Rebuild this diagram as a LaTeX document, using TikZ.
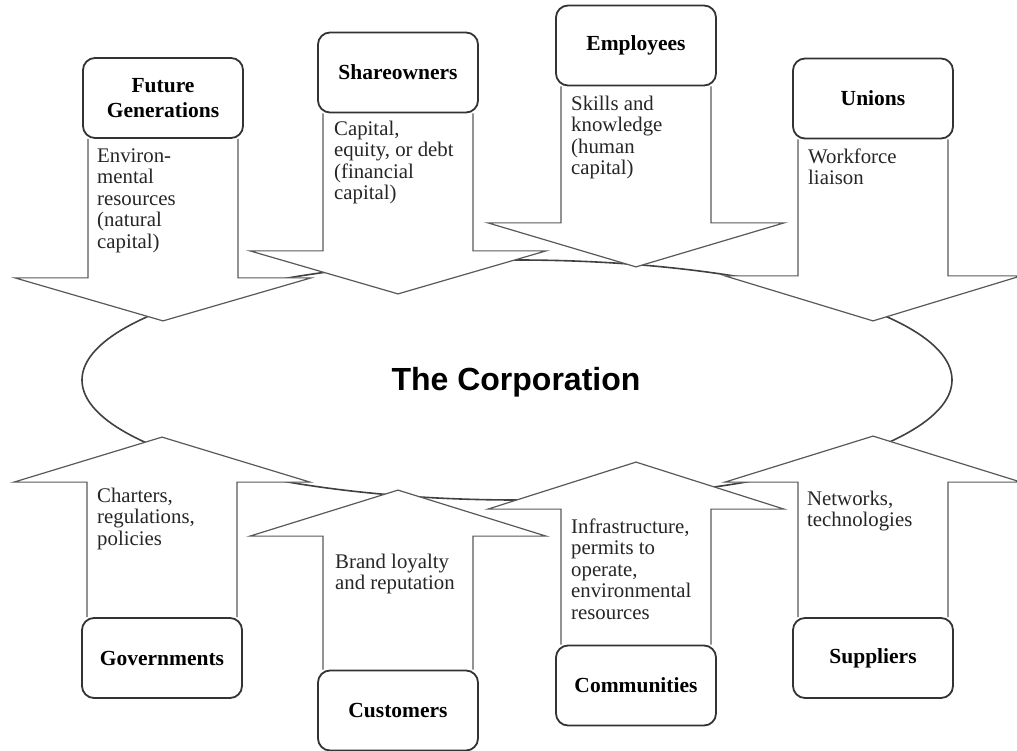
\documentclass[tikz,border=0pt]{standalone}
\usepackage{fontspec}
\setmainfont{Liberation Serif}
\newfontfamily\corpfont{Liberation Sans}
\usetikzlibrary{shapes.geometric,calc}
\pgfdeclarelayer{ell}
\pgfdeclarelayer{arrs}
\pgfsetlayers{ell,arrs,main}
\tikzset{
  lbox/.style={draw=black!80, line width=1.8pt, rounded corners=12pt, fill=white,
    minimum width=160pt, minimum height=80pt, inner sep=0pt, align=center,
    font=\fontsize{21.5}{25}\selectfont\bfseries},
  arrbody/.style={draw=black!65, line width=1.2pt, fill=white, line join=miter},
  btext/.style={anchor=north west, inner sep=0pt, align=left,
    font=\fontsize{20.8}{21.5}\selectfont, text=black!85},
  corpell/.style={ellipse, draw=black!75, line width=1.6pt, fill=white,
    minimum width=870pt, minimum height=240pt, inner sep=0pt},
  corplabel/.style={anchor=base, inner sep=0pt,
    font=\corpfont\bfseries\fontsize{32}{36}\selectfont},
}
% #1 box node, #2 body length, #3 head height
\newcommand\DownArr[3]{%
  \path[arrbody] ($(#1.south)+(-75,0)$) -- ++(0,#2) -- ++(-73,0)
    -- ($(#1.south)+(0,{#2+#3})$) -- ($(#1.south)+(148,#2)$) -- ++(-73,0) -- ++(0,-#2);
}
\newcommand\UpArr[3]{%
  \path[arrbody] ($(#1.north)+(-75,0)$) -- ++(0,-#2) -- ++(-73,0)
    -- ($(#1.north)+(0,{-#2-#3})$) -- ($(#1.north)+(148,-#2)$) -- ++(-73,0) -- ++(0,#2);
}
\begin{document}
\begin{tikzpicture}[x=1pt,y=-1pt]
\useasboundingbox (0,0) rectangle (1017,751);

% stakeholder boxes
\node[lbox] (fg) at (163,98) {Future\\Generations};
\node[lbox] (sh) at (398,72.5) {Shareowners};
\node[lbox] (em) at (636,45.5) {Employees};
\node[lbox] (un) at (873,98.5) {Unions};
\node[lbox] (go) at (162,658) {Governments};
\node[lbox] (cu) at (398,710.5) {Customers};
\node[lbox] (co) at (636,685.5) {Communities};
\node[lbox] (su) at (873,658) {Suppliers};

% the corporation
\begin{pgfonlayer}{ell}
\node[corpell] (corp) at (517,380) {};
\end{pgfonlayer}
\node[corplabel] (corptext) at (516,390) {The Corporation};

% arrows
\begin{pgfonlayer}{arrs}
\DownArr{fg}{139}{43}
\DownArr{sh}{137.5}{43}
\DownArr{em}{136.5}{44}
\DownArr{un}{136.5}{45}
\UpArr{go}{135}{45}
\UpArr{cu}{133.5}{46}
\UpArr{co}{135.5}{47}
\UpArr{su}{135}{46}
\end{pgfonlayer}

% arrow texts
\node[btext] (tfg) at (97,147) {\strut Environ-\\mental\\resources\\(natural\\capital)};
\node[btext] (tsh) at (334,120) {\strut Capital,\\equity, or debt\\(financial\\capital)};
\node[btext] (tem) at (571,95) {\strut Skills and\\knowledge\\(human\\capital)};
\node[btext] (tun) at (808,148) {\strut Workforce\\liaison};
\node[btext] (tgo) at (97,487) {\strut Charters,\\regulations,\\policies};
\node[btext] (tcu) at (335,553) {\strut Brand loyalty\\and reputation};
\node[btext] (tco) at (571,518) {\strut Infrastructure,\\permits to\\operate,\\environmental\\resources};
\node[btext] (tsu) at (807,490) {\strut Networks,\\technologies};
\end{tikzpicture}
\end{document}
